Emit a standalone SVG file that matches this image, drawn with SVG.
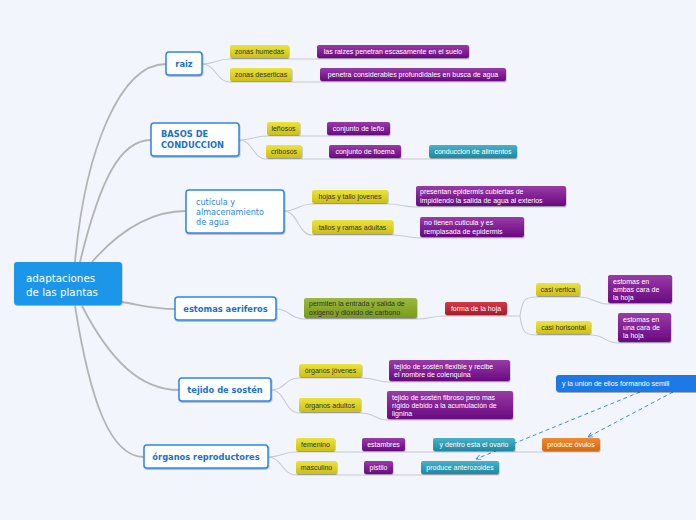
<svg xmlns="http://www.w3.org/2000/svg" width="696" height="520" viewBox="0 0 696 520">
<defs>
<linearGradient id="gy" x1="0" y1="0" x2="0" y2="1"><stop offset="0" stop-color="#ebe43c"/><stop offset="1" stop-color="#cdbf17"/></linearGradient>
<linearGradient id="gp" x1="0" y1="0" x2="0" y2="1"><stop offset="0" stop-color="#9a3aa8"/><stop offset="1" stop-color="#690a80"/></linearGradient>
<linearGradient id="gt" x1="0" y1="0" x2="0" y2="1"><stop offset="0" stop-color="#46b2c8"/><stop offset="1" stop-color="#1f88a2"/></linearGradient>
<linearGradient id="gg" x1="0" y1="0" x2="0" y2="1"><stop offset="0" stop-color="#9cb83a"/><stop offset="1" stop-color="#789a1e"/></linearGradient>
<linearGradient id="gr" x1="0" y1="0" x2="0" y2="1"><stop offset="0" stop-color="#d23a4c"/><stop offset="1" stop-color="#a81a2c"/></linearGradient>
<linearGradient id="go" x1="0" y1="0" x2="0" y2="1"><stop offset="0" stop-color="#f08a30"/><stop offset="1" stop-color="#d26a14"/></linearGradient>
<filter id="sh" x="-10%" y="-20%" width="120%" height="160%"><feDropShadow dx="0.5" dy="1" stdDeviation="0.6" flood-color="#000" flood-opacity="0.3"/></filter>
<marker id="ah" viewBox="0 0 10 10" refX="9" refY="5" markerWidth="6" markerHeight="6" orient="auto"><path d="M1,1 L9,5 L1,9" fill="none" stroke="#3a8ee8" stroke-width="1.5"/></marker>
</defs>
<style>
.bg{fill:#f3f5fd}
.main{fill:#fff;stroke:#2e86e8;stroke-width:1.5;filter:url(#sh)}
.mt{font-family:"DejaVu Sans",Verdana,sans-serif;font-size:8.3px;font-weight:bold;fill:#1a6fd0}
.mtn{font-family:"DejaVu Sans",Verdana,sans-serif;font-size:8.1px;fill:#2a86e0}
.y{fill:url(#gy);filter:url(#sh)}
.p{fill:url(#gp);filter:url(#sh)}
.t{fill:url(#gt);filter:url(#sh)}
.g{fill:url(#gg);filter:url(#sh)}
.r{fill:url(#gr);filter:url(#sh)}
.o{fill:url(#go);filter:url(#sh)}
.dk{font-family:"Liberation Sans",Arial,sans-serif;font-size:7px;fill:#333}
.wt{font-family:"Liberation Sans",Arial,sans-serif;font-size:7px;fill:#fff}
.c0{fill:none;stroke:#b4b4b4;stroke-width:1.8}
.c1{fill:none;stroke:#c6cad2;stroke-width:1.1}
.dash{fill:none;stroke:#3a8ee8;stroke-width:1;stroke-dasharray:4,3;marker-end:url(#ah)}
</style>
<rect class="bg" x="0" y="0" width="696" height="520"/>

<g id="connectors">
<path class="c0" d="M75,262 C85,150 120,64 166,64"/>
<path class="c0" d="M80,262 C100,180 120,140 151,140"/>
<path class="c0" d="M92,262 C120,230 150,211 186,211"/>
<path class="c0" d="M122,302 C145,306 155,309 175,309"/>
<path class="c0" d="M82,306 C110,360 140,390 179,390"/>
<path class="c0" d="M75,306 C90,400 110,457 144,457"/>

<path class="c1" d="M202,64 C216,64 216,59 230,59 H469"/>
<path class="c1" d="M202,64 C216,64 216,82 230,82 H506"/>
<path class="c1" d="M239,140 C253,140 253,136 267,136 H390"/>
<path class="c1" d="M239,140 C253,140 253,159 266,159 H517"/>
<path class="c1" d="M284,211 C298,211 298,204 312,204 H388 C402,204 402,207 416,207 H566"/>
<path class="c1" d="M284,211 C298,211 298,235 312,235 H393 C407,235 407,238 420,238 H524"/>
<path class="c1" d="M276,309 C290,309 290,319 304,319 H417 C431,319 431,316 445,316 H507"/>
<path class="c1" d="M507,316 H520 C522,300 525,297 536,297 H580 C594,297 594,304 608,304 H672"/>
<path class="c1" d="M520,316 C522,332 525,335 536,335 H591 C605,335 605,343 618,343 H671"/>
<path class="c1" d="M271,390 C285,390 285,378 299,378 H362 C376,378 376,382 389,382 H510"/>
<path class="c1" d="M271,390 C285,390 285,413 299,413 H361 C375,413 375,420 387,420 H513"/>
<path class="c1" d="M268,457 C282,457 282,452 296,452 H600"/>
<path class="c1" d="M268,457 C282,457 282,475 296,475 H499"/>
<path class="dash" d="M673,392 L588,437"/>
<path class="dash" d="M640,392 L476,459"/>
</g>

<g id="root">
<rect x="14" y="262" width="108" height="43" rx="3" fill="#1a96e8" filter="url(#sh)"/>
<text x="26" y="282" font-family="DejaVu Sans,Verdana,sans-serif" font-size="10.3" fill="#fff">adaptaciones</text>
<text x="26" y="296" font-family="DejaVu Sans,Verdana,sans-serif" font-size="10.3" fill="#fff">de las plantas</text>
</g>

<g id="raiz"><rect class="main" x="166" y="52" width="36" height="23" rx="3"/><text class="mt" x="184" y="67" text-anchor="middle">raiz</text></g>
<g id="basos"><rect class="main" x="151" y="123" width="88" height="33" rx="3"/><text class="mt" x="161" y="137">BASOS DE</text><text class="mt" x="161" y="148">CONDUCCION</text></g>
<g id="cuticula"><rect class="main" x="186" y="190" width="98" height="43" rx="3"/><text class="mtn" x="196" y="205">cutícula y</text><text class="mtn" x="196" y="215">almacenamiento</text><text class="mtn" x="196" y="225">de agua</text></g>
<g id="estomas"><rect class="main" x="175" y="297" width="101" height="23" rx="3"/><text class="mt" x="225.5" y="312" text-anchor="middle">estomas aeriferos</text></g>
<g id="tejido"><rect class="main" x="179" y="378" width="92" height="23" rx="3"/><text class="mt" x="225" y="393" text-anchor="middle">tejido de sostén</text></g>
<g id="organos"><rect class="main" x="144" y="445" width="124" height="23" rx="3"/><text class="mt" x="206" y="460" text-anchor="middle">órganos reproductores</text></g>

<g id="zonas-humedas"><rect class="y" x="230" y="45" width="59" height="13" rx="2"/><text class="dk" x="259.5" y="54.3" text-anchor="middle">zonas humedas</text></g>
<g id="raizes-suelo"><rect class="p" x="317" y="45" width="152" height="13" rx="2"/><text class="wt" x="393" y="54.3" text-anchor="middle">las raizes penetran escasamente en el suelo</text></g>
<g id="zonas-deserticas"><rect class="y" x="230" y="68" width="62" height="13" rx="2"/><text class="dk" x="261" y="77.3" text-anchor="middle">zonas deserticas</text></g>
<g id="penetra"><rect class="p" x="320" y="68" width="186" height="13" rx="2"/><text class="wt" x="413" y="77.3" text-anchor="middle">penetra considerables profundidales en busca de agua</text></g>

<g id="lenosos"><rect class="y" x="267" y="122" width="33" height="13" rx="2"/><text class="dk" x="283.5" y="131.3" text-anchor="middle">leñosos</text></g>
<g id="leno"><rect class="p" x="327" y="122" width="63" height="13" rx="2"/><text class="wt" x="358.5" y="131.3" text-anchor="middle">conjunto de leño</text></g>
<g id="cribosos"><rect class="y" x="266" y="145" width="36" height="13" rx="2"/><text class="dk" x="284" y="154.3" text-anchor="middle">cribosos</text></g>
<g id="floema"><rect class="p" x="329" y="145" width="72" height="13" rx="2"/><text class="wt" x="365" y="154.3" text-anchor="middle">conjunto de floema</text></g>
<g id="alimentos"><rect class="t" x="429" y="145" width="88" height="13" rx="2"/><text class="wt" x="473" y="154.3" text-anchor="middle">conduccion de alimentos</text></g>

<g id="hojas-tallo"><rect class="y" x="312" y="190" width="76" height="13" rx="2"/><text class="dk" x="350" y="199.3" text-anchor="middle">hojas y tallo jovenes</text></g>
<g id="presentan"><rect class="p" x="416" y="186" width="150" height="20" rx="2"/><text class="wt" x="420" y="194">presentan epidermis cubiertas de</text><text class="wt" x="420" y="202.5">impidiendo la salida de agua al exterios</text></g>
<g id="tallos-ramas"><rect class="y" x="312" y="220" width="81" height="14" rx="2"/><text class="dk" x="352.5" y="229.8" text-anchor="middle">tallos y ramas adultas</text></g>
<g id="no-tienen"><rect class="p" x="420" y="217" width="104" height="20" rx="2"/><text class="wt" x="424" y="225">no tienen cuticula y es</text><text class="wt" x="424" y="233.5">remplasada de epidermis</text></g>

<g id="permiten"><rect class="g" x="304" y="298" width="113" height="20" rx="2"/><text class="dk" x="309" y="306" fill="#222">permiten la entrada y salida de</text><text class="dk" x="309" y="314.5" fill="#222">oxigeno y dióxido de carbono</text></g>
<g id="forma-hoja"><rect class="r" x="445" y="302" width="62" height="13" rx="2"/><text class="wt" x="476" y="311.3" text-anchor="middle">forma de la hoja</text></g>
<g id="casi-vertica"><rect class="y" x="536" y="283" width="44" height="13" rx="2"/><text class="dk" x="558" y="292.3" text-anchor="middle">casi vertica</text></g>
<g id="ambas-cara"><rect class="p" x="608" y="275" width="64" height="28" rx="2"/><text class="wt" x="613" y="284">estomas en</text><text class="wt" x="613" y="292">ambas cara de</text><text class="wt" x="613" y="300">la hoja</text></g>
<g id="casi-horisontal"><rect class="y" x="536" y="321" width="55" height="13" rx="2"/><text class="dk" x="563.5" y="330.3" text-anchor="middle">casi horisontal</text></g>
<g id="una-cara"><rect class="p" x="618" y="313" width="53" height="29" rx="2"/><text class="wt" x="623" y="322">estomas en</text><text class="wt" x="623" y="330">una cara de</text><text class="wt" x="623" y="338">la hoja</text></g>

<g id="organos-jovenes"><rect class="y" x="299" y="364" width="63" height="13" rx="2"/><text class="dk" x="330.5" y="373.3" text-anchor="middle">órganos jóvenes</text></g>
<g id="flexible"><rect class="p" x="389" y="360" width="121" height="21" rx="2"/><text class="wt" x="394" y="369">tejido de sostén flexible  y recibe</text><text class="wt" x="394" y="377">el nombre de colenquina</text></g>
<g id="organos-adultos"><rect class="y" x="299" y="398" width="62" height="14" rx="2"/><text class="dk" x="330" y="407.8" text-anchor="middle">órganos adultos</text></g>
<g id="fibroso"><rect class="p" x="387" y="391" width="126" height="28" rx="2"/><text class="wt" x="392" y="400">tejido de sostén fibroso pero mas</text><text class="wt" x="392" y="408">rígido debido a la acumulación de</text><text class="wt" x="392" y="416">lignina</text></g>

<g id="femenino"><rect class="y" x="296" y="438" width="39" height="13" rx="2"/><text class="dk" x="315.5" y="447.3" text-anchor="middle">femenino</text></g>
<g id="estambres"><rect class="p" x="362" y="438" width="43" height="13" rx="2"/><text class="wt" x="383.5" y="447.3" text-anchor="middle">estambres</text></g>
<g id="ovario"><rect class="t" x="433" y="438" width="82" height="13" rx="2"/><text class="wt" x="474" y="447.3" text-anchor="middle">y dentro esta el ovario</text></g>
<g id="ovulos"><rect class="o" x="542" y="438" width="58" height="13" rx="2"/><text class="wt" x="571" y="447.3" text-anchor="middle">produce óvulos</text></g>
<g id="masculino"><rect class="y" x="296" y="461" width="41" height="13" rx="2"/><text class="dk" x="316.5" y="470.3" text-anchor="middle">masculino</text></g>
<g id="pistilo"><rect class="p" x="364" y="461" width="29" height="13" rx="2"/><text class="wt" x="378.5" y="470.3" text-anchor="middle">pistilo</text></g>
<g id="anterozoides"><rect class="t" x="421" y="461" width="78" height="13" rx="2"/><text class="wt" x="460" y="470.3" text-anchor="middle">produce anterozoides</text></g>

<g id="union"><rect x="556" y="375" width="146" height="17" rx="3" fill="#1a7ae6" filter="url(#sh)"/><text class="wt" x="562" y="386" font-size="7.5">y la union de ellos formando semill</text></g>
</svg>
